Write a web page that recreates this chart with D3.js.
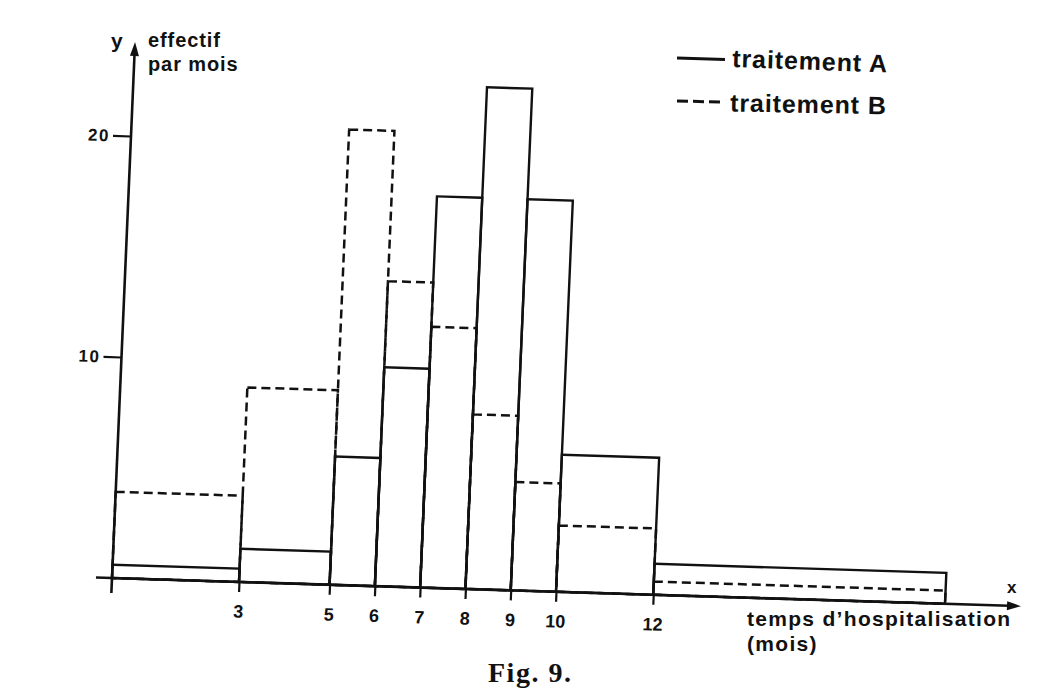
<!DOCTYPE html>
<html><head><meta charset="utf-8">
<script src="https://cdn.jsdelivr.net/npm/d3@7"></script>
<style>
html,body{margin:0;padding:0;background:#fff;}
svg{display:block;}
text{font-family:"Liberation Sans",Arial,Helvetica,sans-serif;font-weight:bold;fill:#111;}
</style></head><body>
<svg id="chart" width="1045" height="691"></svg>
<script>
// ---- data ----
const classStarts = [0, 3, 5, 6, 7, 8, 9, 10, 12];
const classEnds   = [3, 5, 6, 7, 8, 9, 10, 12, 18];
const traitementA = [0.6, 1.5, 5.8, 9.9, 17.7, 22.7, 17.7, 6.2, 1.4];
const traitementB = [3.9, 8.8, 20.6, 13.8, 11.8, 7.9, 4.9, 3.0, 0.6];
const xTickValues = [3, 5, 6, 7, 8, 9, 10, 12];
const yTickValues = [10, 20];
const seriesNames = ["traitement A", "traitement B"];
const yTitle = ["effectif", "par mois"];
const xTitle = ["temps d\u2019hospitalisation", "(mois)"];
const figTitle = "Fig. 9.";

const ink = "#111";
const svg = d3.select("#chart");
svg.append("rect").attr("width", 1045).attr("height", 691).attr("fill", "#fff");

// scales (the printed figure compresses the first class)
const x = d3.scaleLinear().domain([0, 3, 10, 18]).range([0, 127, 444, 833]);
const y = d3.scaleLinear().domain([0, 20]).range([0, -442]);

// plot group, slightly skewed like the scanned page
const g = svg.append("g").attr("transform", "matrix(1,0.031,-0.043,1,112,578)");

const bins = classStarts.map((s, i) => ({x0: s, x1: classEnds[i], a: traitementA[i], b: traitementB[i]}));

// series B (dashed)
g.append("g").selectAll("rect").data(bins).join("rect")
  .attr("x", d => x(d.x0)).attr("y", d => y(d.b))
  .attr("width", d => x(d.x1) - x(d.x0)).attr("height", d => -y(d.b))
  .attr("fill", "none").attr("stroke", ink).attr("stroke-width", 2.5)
  .attr("stroke-dasharray", "9,5");

// series A (solid)
g.append("g").selectAll("rect").data(bins).join("rect")
  .attr("x", d => x(d.x0)).attr("y", d => y(d.a))
  .attr("width", d => x(d.x1) - x(d.x0)).attr("height", d => -y(d.a))
  .attr("fill", "none").attr("stroke", ink).attr("stroke-width", 2.4);

// x axis
const gx = g.append("g").call(
  d3.axisBottom(x).tickValues(xTickValues).tickSize(10).tickPadding(13).tickFormat(d3.format("d")));
gx.select(".domain").remove();
gx.selectAll(".tick line").attr("stroke", ink).attr("stroke-width", 2.2);
gx.selectAll(".tick text").attr("font-size", 18);

// y axis
const gy = g.append("g").call(
  d3.axisLeft(y).tickValues(yTickValues).tickSize(18).tickPadding(3).tickFormat(d3.format("d")));
gy.select(".domain").remove();
gy.selectAll(".tick line").attr("stroke", ink).attr("stroke-width", 2.2);
gy.selectAll(".tick text").attr("font-size", 17).attr("letter-spacing", 1.5);

// axis lines with arrows
const xEnd = x(18) + 64;
g.append("line").attr("x1", -16).attr("y1", 0).attr("x2", xEnd).attr("y2", 0)
  .attr("stroke", ink).attr("stroke-width", 2.6);
g.append("path").attr("d", d3.line()([[xEnd - 2, -4.5], [xEnd + 12, 0], [xEnd - 2, 4.5]]) + "Z").attr("fill", ink);
const yEnd = y(20) - 82;
g.append("line").attr("x1", 0).attr("y1", 15).attr("x2", 0).attr("y2", yEnd)
  .attr("stroke", ink).attr("stroke-width", 2.6);
g.append("path").attr("d", d3.line()([[-4.5, yEnd + 2], [0, yEnd - 12], [4.5, yEnd + 2]]) + "Z").attr("fill", ink);

// axis titles
svg.append("text").attr("x", 111).attr("y", 48).attr("font-size", 21).text("y");
svg.append("text").attr("x", 148).attr("y", 47).attr("font-size", 20).attr("letter-spacing", 0.9).text(yTitle[0]);
svg.append("text").attr("x", 148).attr("y", 71).attr("font-size", 20).attr("letter-spacing", 0.9).text(yTitle[1]);
svg.append("text").attr("x", 1007).attr("y", 593).attr("font-size", 17).text("x");
svg.append("text").attr("x", 747).attr("y", 626).attr("font-size", 21).attr("letter-spacing", 1.3).text(xTitle[0]);
svg.append("text").attr("x", 747).attr("y", 651).attr("font-size", 21).attr("letter-spacing", 1.3).text(xTitle[1]);

// legend
const legend = svg.append("g");
legend.append("line").attr("x1", 677).attr("y1", 58).attr("x2", 725).attr("y2", 59.5)
  .attr("stroke", ink).attr("stroke-width", 3);
legend.append("text").attr("transform", "translate(732,67) rotate(2)")
  .attr("font-size", 25).attr("letter-spacing", 0.9).text(seriesNames[0]);
legend.append("line").attr("x1", 677).attr("y1", 101).attr("x2", 720).attr("y2", 102)
  .attr("stroke", ink).attr("stroke-width", 3).attr("stroke-dasharray", "11,5");
legend.append("text").attr("transform", "translate(730,111.5) rotate(1)")
  .attr("font-size", 25).attr("letter-spacing", 0.9).text(seriesNames[1]);

// caption
svg.append("text").attr("x", 488).attr("y", 682)
  .style("font-family", "'Liberation Serif','Times New Roman',serif")
  .attr("font-size", 28).attr("letter-spacing", 1.5).text(figTitle);
</script>
</body></html>
